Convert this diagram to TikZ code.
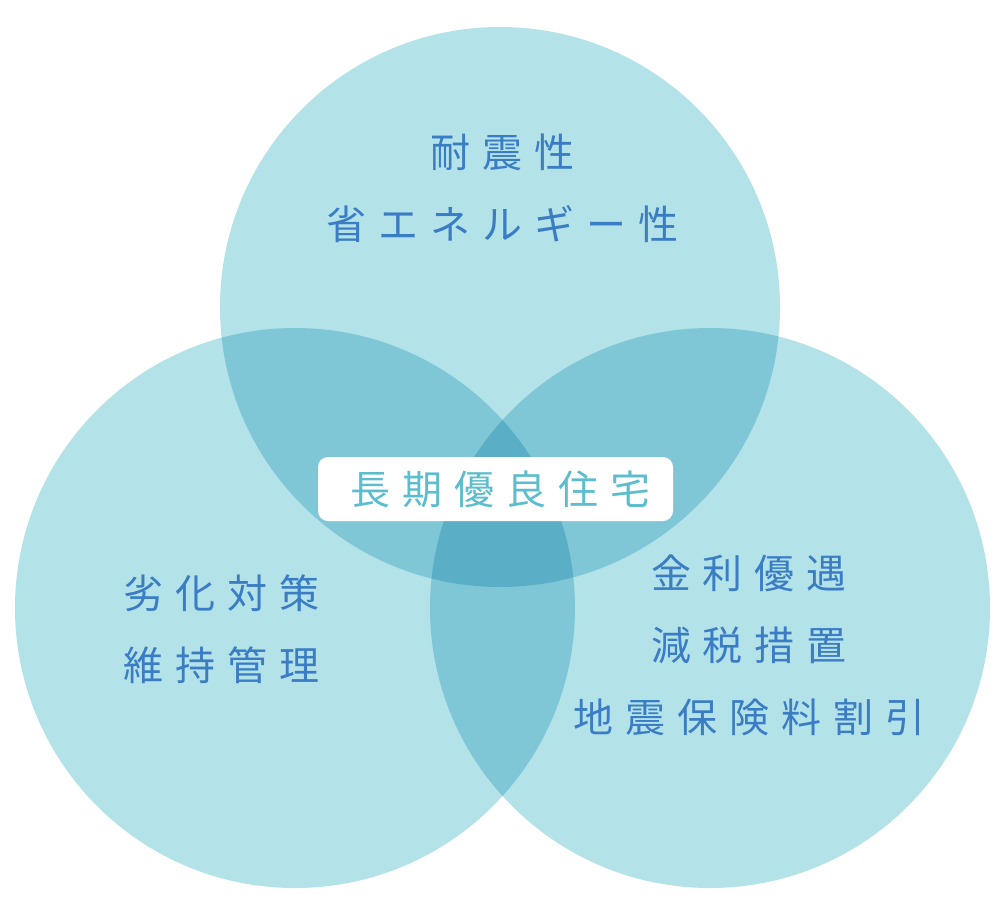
\documentclass[tikz,border=0pt]{standalone}
\usepackage{fontspec}
\setmainfont{Noto Sans CJK JP}
\newfontfamily\jpfont[LetterSpace=30]{Noto Sans CJK JP}
\usepackage{xcolor}
\definecolor{vennlight}{HTML}{B3E2E9}
\definecolor{venntwo}{HTML}{7FC7D6}
\definecolor{vennthree}{HTML}{5AAFC6}
\definecolor{vennblue}{HTML}{3A7DC4}
\definecolor{venncyan}{HTML}{5BBDCE}

\begin{document}
\begin{tikzpicture}[x=1pt, y=-1pt,
    lab/.style={text=vennblue, align=center, inner sep=0pt, font=\jpfont\fontsize{40}{72}\selectfont}]
    \useasboundingbox (0,0) rectangle (1000,902);

    % Circles
    \foreach \cx/\cy in {500/307, 295/608, 710/608} {
        \fill[vennlight] (\cx,\cy) circle[radius=280pt];
    }

    % Overlap of two circles
    \foreach \ax/\ay/\bx/\by in {500/307/295/608, 500/307/710/608, 295/608/710/608} {
        \begin{scope}
            \clip (\ax,\ay) circle[radius=280pt];
            \fill[venntwo] (\bx,\by) circle[radius=280pt];
        \end{scope}
    }

    % Overlap of all three
    \begin{scope}
        \clip (500,307) circle[radius=280pt];
        \clip (295,608) circle[radius=280pt];
        \fill[vennthree] (710,608) circle[radius=280pt];
    \end{scope}

    % Labels
    \node[lab] (perf) at (502,188) {耐震性\\省エネルギー性};
    \node[lab] (care) at (221,629) {劣化対策\\維持管理};
    \node[lab] (merit) at (749,645) {金利優遇\\減税措置\\地震保険料割引};

    % Centre
    \node[fill=white, rounded corners=10pt, minimum width=355pt, minimum height=64pt, inner sep=0pt,
          text=venncyan, font=\jpfont\fontsize{40}{48}\selectfont] (core) at (495.5,489) {\hspace{9pt}長期優良住宅};
\end{tikzpicture}
\end{document}
